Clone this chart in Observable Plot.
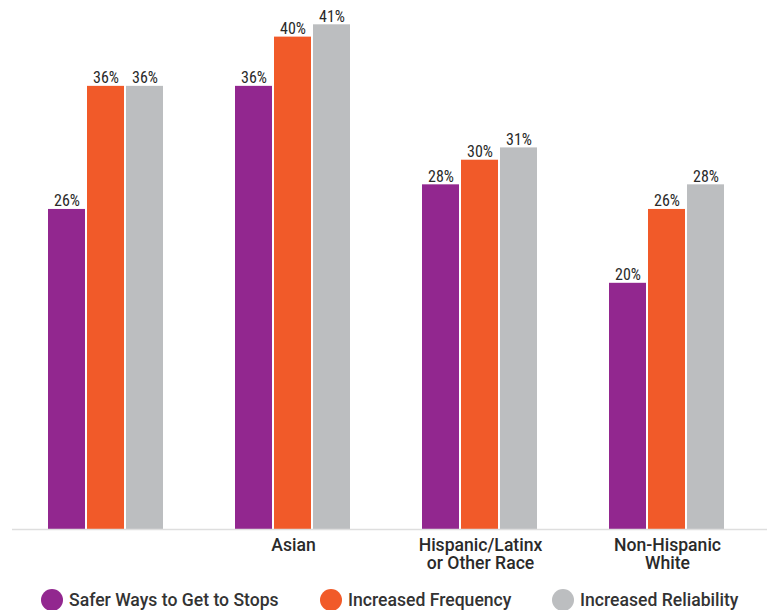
<!DOCTYPE html>
<html>
<head>
<meta charset="utf-8">
<script src="https://cdn.jsdelivr.net/npm/d3@7"></script>
<script src="https://cdn.jsdelivr.net/npm/@observablehq/plot@0.6"></script>
<style>
  html, body { margin: 0; padding: 0; background: #fff; }
  #wrap { width: 767px; height: 610px; position: relative; overflow: hidden; }
  #legend { position: relative; height: 30px; font-family: Roboto, "Liberation Sans", sans-serif; font-weight: 500; font-size: 17.6px; color: #333; }
  .item { position: absolute; top: 0; display: flex; align-items: center; height: 40px; }
  .sw { width: 22px; height: 22px; border-radius: 50%; margin-right: 6px; }
</style>
</head>
<body>
<div id="wrap">
  <div id="chart"></div>
  <div id="legend"></div>
</div>
<script>
const groupKeys = ["G1", "Asian", "Hispanic", "White"];
const groupLabels = ["", "Asian", "Hispanic/Latinx\nor Other Race", "Non-Hispanic\nWhite"];
const series = ["Safer Ways to Get to Stops", "Increased Frequency", "Increased Reliability"];
const colors = ["#92278F", "#F15A29", "#BCBEC0"];
const saferValues = [26, 36, 28, 20];
const frequencyValues = [36, 40, 30, 26];
const reliabilityValues = [36, 41, 31, 28];

const seriesValues = [saferValues, frequencyValues, reliabilityValues];
const data = [];
groupKeys.forEach((g, i) => {
  series.forEach((s, j) => data.push({group: g, series: s, value: seriesValues[j][i]}));
});
const labelData = groupKeys.map((g, i) => ({group: g, label: groupLabels[i]}));

const chart = Plot.plot({
  width: 767,
  height: 580,
  marginLeft: 48,
  marginRight: 42,
  marginTop: 12,
  marginBottom: 51,
  style: {background: "#fff"},
  fx: {domain: groupKeys, paddingInner: 0.38, paddingOuter: 0, axis: null, label: null},
  x: {domain: series, paddingInner: 0.05, paddingOuter: 0, axis: null},
  y: {domain: [0, 42], axis: null},
  color: {domain: series, range: colors},
  marks: [
    Plot.barY(data, {fx: "group", x: "series", y: "value", fill: "series"}),
    Plot.text(data, {
      fx: "group", x: "series", y: "value",
      text: d => d.value + "%",
      lineAnchor: "bottom", dy: -3,
      fontSize: 16, fill: "#2a2a2a",
      fontFamily: "'Liberation Sans Narrow', 'Roboto Condensed', Roboto, sans-serif"
    }),
    Plot.text(labelData, {
      fx: "group", text: "label",
      frameAnchor: "bottom", lineAnchor: "top", dy: 9, lineHeight: 1.03,
      fontSize: 17.6, fontWeight: 500, fill: "#2a2a2a",
      fontFamily: "Roboto, 'Liberation Sans', sans-serif"
    })
  ]
});

const y0 = chart.scale("y").apply(0);
d3.select(chart).append("line")
  .attr("x1", 12).attr("x2", 767)
  .attr("y1", y0 + 0.5).attr("y2", y0 + 0.5)
  .attr("stroke", "#dedede").attr("stroke-width", 1.5);

document.getElementById("chart").appendChild(chart);

const legendLefts = [41, 320, 552];
const legend = d3.select("#legend");
series.forEach((s, i) => {
  const it = legend.append("div").attr("class", "item").style("left", legendLefts[i] + "px");
  it.append("div").attr("class", "sw").style("background", colors[i]);
  it.append("span").text(s);
});
</script>
</body>
</html>
